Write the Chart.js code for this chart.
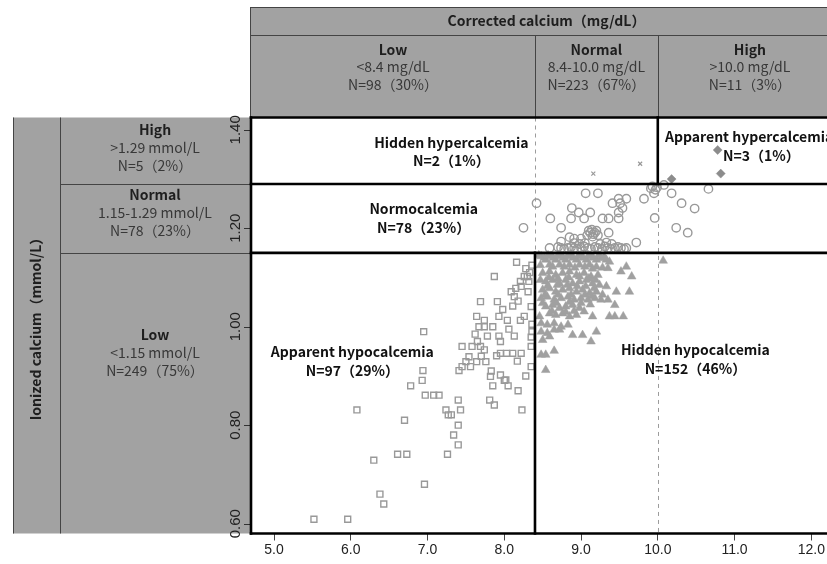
<!DOCTYPE html>
<html><head><meta charset="utf-8">
<script src="https://cdn.jsdelivr.net/npm/chart.js@4.4.1/dist/chart.umd.min.js"></script>
<style>
html,body{margin:0;padding:0;background:#fff;overflow:hidden;width:827px;height:564px}
#wrap{position:absolute;left:0;top:0;width:850px;height:564px}
</style>
</head><body><div id="wrap"><canvas id="c" width="850" height="564"></canvas></div>
<script>
// ---------- data ----------
const xTicks=[5,6,7,8,9,10,11,12];
const yTicks=[0.6,0.8,1.0,1.2,1.4];
const correctedCuts=[8.4,10.0];
const ionizedCuts=[1.15,1.29];

const ccTitle='Corrected calcium（mg/dL）';
const ccGroups=['Low','Normal','High'];
const ccRanges=['<8.4 mg/dL','8.4-10.0 mg/dL','>10.0 mg/dL'];
const ccCounts=['N=98（30%）','N=223（67%）','N=11（3%）'];

const icaTitle='Ionized calcium（mmol/L）';
const icaGroups=['High','Normal','Low'];
const icaRanges=['>1.29 mmol/L','1.15-1.29 mmol/L','<1.15 mmol/L'];
const icaCounts=['N=5（2%）','N=78（23%）','N=249（75%）'];

const zoneNames=['Hidden hypercalcemia','Apparent hypercalcemia','Normocalcemia','Apparent hypocalcemia','Hidden hypocalcemia'];
const zoneCounts=['N=2（1%）','N=3（1%）','N=78（23%）','N=97（29%）','N=152（46%）'];

const apparentHypo=[
[5.52,0.609],[5.96,0.609],[6.38,0.660],[6.43,0.640],[6.30,0.729],[6.61,0.741],[6.73,0.741],[6.96,0.680],[7.26,0.741],[6.70,0.810],
[6.08,0.831],[7.40,0.760],[7.34,0.780],[7.40,0.800],[7.24,0.831],[7.27,0.821],[7.31,0.821],[7.43,0.831],[7.40,0.851],[6.95,0.990],
[6.94,0.911],[6.93,0.891],[6.78,0.880],[6.97,0.861],[7.08,0.861],[7.15,0.861],[7.81,0.851],[7.87,0.841],[8.23,0.831],
[8.16,1.131],[7.87,1.102],[8.21,1.092],[8.26,1.102],[8.30,1.102],[8.32,1.092],[8.09,1.071],[8.15,1.078],[8.22,1.082],[8.31,1.071],
[8.13,1.061],[7.69,1.051],[7.91,1.051],[7.64,1.021],[7.74,1.013],[7.93,1.021],[8.04,1.013],[8.21,1.013],[8.26,1.021],[7.67,1.000],
[7.74,1.000],[7.85,1.000],[8.35,1.041],[7.78,0.981],[7.93,0.981],[7.95,0.970],[8.13,0.981],[8.35,0.979],[7.65,0.970],[7.45,0.960],
[7.58,0.960],[7.69,0.960],[7.74,0.953],[7.95,0.946],[8.03,0.946],[8.11,0.946],[8.22,0.946],[8.35,0.960],[7.54,0.939],[7.50,0.929],
[7.64,0.929],[7.76,0.929],[7.45,0.919],[7.56,0.919],[7.41,0.911],[8.35,0.919],[7.82,0.899],[7.95,0.902],[8.02,0.892],[7.85,0.880],
[8.05,0.880],[8.18,0.870],
[8.11,1.042],[8.18,1.052],[8.28,1.118],[8.33,1.110],[8.36,1.005],[8.36,0.990],[7.90,0.941],[8.17,0.930],[8.00,0.891],[7.83,0.910],
[7.62,0.985],[7.70,0.940],[8.28,0.900],[8.06,0.995],[7.98,1.035],[8.36,1.125]
];

const hiddenHypo=[
[8.48,1.143],[8.54,1.136],[8.61,1.143],[8.67,1.136],[8.74,1.143],[8.80,1.136],[8.87,1.143],[8.94,1.136],[9.00,1.143],[9.07,1.136],
[9.13,1.143],[9.20,1.136],[9.26,1.139],[9.33,1.136],[9.37,1.132],[8.59,1.126],[8.72,1.126],[8.85,1.126],[8.98,1.126],[9.11,1.126],
[9.20,1.122],[9.35,1.119],[9.59,1.122],[9.52,1.112],[9.66,1.102],
[8.50,1.109],[8.59,1.112],[8.67,1.105],[8.76,1.109],[8.85,1.112],[8.94,1.105],[9.04,1.109],[9.13,1.102],[9.22,1.105],[8.54,1.092],
[8.63,1.095],[8.72,1.088],[8.80,1.095],[8.89,1.088],[8.98,1.092],[9.07,1.095],[9.15,1.088],[9.24,1.085],[9.33,1.082],[8.50,1.075],
[8.59,1.078],[8.67,1.071],[8.76,1.075],[8.85,1.078],[8.94,1.071],[9.02,1.075],[9.11,1.068],[9.20,1.071],[9.28,1.065],[9.46,1.071],
[9.63,1.071],[8.48,1.058],[8.56,1.061],[8.65,1.055],[8.74,1.058],[8.83,1.061],[8.91,1.055],[9.00,1.058],[9.09,1.055],[9.18,1.058],
[9.26,1.055],[9.35,1.055],[9.44,1.044],
[8.54,1.041],[8.63,1.044],[8.72,1.038],[8.80,1.041],[8.89,1.044],[8.98,1.038],[9.04,1.031],[8.59,1.027],[8.67,1.024],[8.76,1.027],
[8.85,1.021],[8.94,1.024],[9.15,1.021],[9.37,1.021],[9.44,1.021],[9.55,1.021],[8.46,1.021],
[8.48,1.007],[8.56,1.004],[8.65,1.007],[8.74,1.000],[8.83,1.004],[8.89,0.983],[9.02,0.983],[9.20,0.990],[9.13,0.970],[8.48,0.990],
[8.56,0.987],[8.65,0.994],[8.50,0.973],[8.59,0.980],[8.72,0.994],
[8.48,0.943],[8.54,0.943],[8.65,0.951],[8.54,0.912],
[10.07,1.134],
[8.45,1.145],[8.52,1.140],[8.57,1.145],[8.64,1.140],[8.70,1.145],[8.77,1.140],[8.83,1.145],[8.90,1.140],[8.97,1.145],[9.03,1.140],
[9.10,1.145],[9.16,1.140],[9.23,1.145],[9.30,1.142],[8.47,1.125],[8.63,1.122],[8.78,1.122],[8.92,1.120],[9.05,1.122],[9.15,1.118],
[9.28,1.120],[8.47,1.095],[8.58,1.100],[8.70,1.098],[8.84,1.100],[8.98,1.102],[9.10,1.098],[9.19,1.095],[8.56,1.082],[8.69,1.085],
[8.82,1.085],[8.95,1.082],[9.06,1.082],[9.17,1.078],[8.53,1.065],[8.70,1.065],[8.87,1.065],[9.05,1.065],[9.14,1.062],[8.50,1.048],
[8.68,1.048],[8.85,1.050],[9.00,1.048],[9.12,1.045],[8.62,1.032],[8.80,1.030],[8.91,1.032]
];

const normocalcemia=[
[8.42,1.251],[8.25,1.201],[8.60,1.220],[8.74,1.201],[8.88,1.241],[8.97,1.232],[8.87,1.220],[9.06,1.271],[9.22,1.271],[9.12,1.232],
[9.04,1.220],[9.28,1.220],[9.36,1.220],[9.41,1.251],[9.49,1.260],[9.59,1.260],[9.51,1.251],[9.54,1.241],[9.49,1.232],[9.49,1.220],
[9.36,1.191],[9.82,1.260],[9.91,1.281],[9.96,1.221],[9.72,1.171],[9.33,1.171],[9.00,1.179],[8.91,1.179],[8.85,1.182],[8.74,1.173],
[9.12,1.191],[9.18,1.191],[9.15,1.183],[8.59,1.160],[9.97,1.278],
[8.74,1.160],[8.83,1.160],[8.91,1.160],[9.00,1.160],[9.09,1.160],[9.22,1.160],[9.35,1.160],[9.44,1.160],[9.52,1.160],[9.59,1.160],
[10.08,1.288],[10.18,1.271],[10.31,1.251],[10.48,1.240],[10.66,1.280],[10.24,1.201],[10.39,1.191],[9.95,1.271],
[8.78,1.158],[8.87,1.162],[8.95,1.158],[9.04,1.163],[9.13,1.158],[9.18,1.162],[9.27,1.158],[9.31,1.163],[9.39,1.158],[9.48,1.162],
[9.56,1.158],[8.70,1.162],[9.10,1.195],[9.14,1.197],[9.16,1.188],[9.20,1.195],[9.08,1.186],[9.22,1.186],[8.98,1.168],[9.05,1.170],
[9.25,1.168],[9.40,1.168],[8.91,1.170],[9.99,1.283],[9.93,1.285]
];

const hiddenHyper=[[9.16,1.311],[9.77,1.331]];
const apparentHyper=[[10.78,1.359],[10.82,1.311],[10.18,1.300]];

// ---------- drawing ----------
const GRAY='#a2a2a2';
const LINE='#444';
const JP='"Noto Sans CJK JP", "Noto Sans", sans-serif';
const toXY=a=>a.map(p=>({x:p[0],y:p[1]}));

function hline(ctx,x0,x1,y){ctx.beginPath();ctx.moveTo(x0,y);ctx.lineTo(x1,y);ctx.stroke();}
function vline(ctx,x,y0,y1){ctx.beginPath();ctx.moveTo(x,y0);ctx.lineTo(x,y1);ctx.stroke();}

const deco={
  id:'deco',
  beforeDraw(chart){
    const ctx=chart.ctx, xs=chart.scales.x, ys=chart.scales.y, a=chart.chartArea, W=chart.width;
    ctx.save();
    ctx.fillStyle='#fff'; ctx.fillRect(0,0,W,chart.height);
    // ---- top header ----
    const hx0=250, hy0=7;
    ctx.fillStyle=GRAY; ctx.fillRect(hx0,hy0,W-hx0,a.top-hy0);
    ctx.strokeStyle=LINE; ctx.lineWidth=1;
    hline(ctx,hx0,W,hy0+0.5);
    vline(ctx,hx0+0.5,hy0,a.top);
    hline(ctx,hx0,W,35.5);
    const cx=[a.left, xs.getPixelForValue(correctedCuts[0]), xs.getPixelForValue(correctedCuts[1]), a.right];
    vline(ctx,Math.round(cx[1])+0.5,35,a.top);
    vline(ctx,Math.round(cx[2])+0.5,35,a.top);
    ctx.textAlign='center'; ctx.textBaseline='middle';
    ctx.fillStyle='#1e1e1e'; ctx.font='bold 14px '+JP;
    ctx.fillText(ccTitle,(a.left+a.right)/2,21);
    for(let i=0;i<3;i++){
      const m=(cx[i]+cx[i+1])/2;
      ctx.fillStyle='#1e1e1e'; ctx.font='bold 14px '+JP;
      ctx.fillText(ccGroups[i],m,49.5);
      ctx.fillStyle='#383838'; ctx.font='14px '+JP;
      ctx.fillText(ccRanges[i],m,67);
      ctx.fillText(ccCounts[i],m,84.5);
    }
    // ---- left header ----
    const lx0=13, lbot=a.bottom;
    ctx.fillStyle=GRAY; ctx.fillRect(lx0,a.top,a.left-lx0,lbot-a.top);
    ctx.strokeStyle=LINE; ctx.lineWidth=1;
    vline(ctx,lx0+0.5,a.top,lbot);
    vline(ctx,60.5,a.top,lbot);
    const r1=Math.round(ys.getPixelForValue(ionizedCuts[1]))+0.5;
    const r2=Math.round(ys.getPixelForValue(ionizedCuts[0]))+0.5;
    hline(ctx,60,a.left,r1);
    hline(ctx,60,a.left,r2);
    const rowY=[130,195,335];
    for(let i=0;i<3;i++){
      ctx.fillStyle='#1e1e1e'; ctx.font='bold 14px '+JP;
      ctx.fillText(icaGroups[i],155,rowY[i]);
      ctx.fillStyle='#383838'; ctx.font='14px '+JP;
      ctx.fillText(icaRanges[i],155,rowY[i]+17.8);
      ctx.fillText(icaCounts[i],155,rowY[i]+35.5);
    }
    ctx.save();
    ctx.translate(36,(a.top+lbot)/2);
    ctx.rotate(-Math.PI/2);
    ctx.fillStyle='#1e1e1e'; ctx.font='bold 14px '+JP;
    ctx.fillText(icaTitle,0,0);
    ctx.restore();
    // ---- y ticks ----
    ctx.strokeStyle='#333'; ctx.lineWidth=1;
    ctx.fillStyle='#222'; ctx.font='15px "Liberation Sans", Arial, sans-serif';
    yTicks.forEach(v=>{
      const py=ys.getPixelForValue(v);
      hline(ctx,244,a.left,Math.round(py)+0.5);
      ctx.save(); ctx.translate(236,py); ctx.rotate(-Math.PI/2);
      ctx.fillText(v.toFixed(2),0,0); ctx.restore();
    });
    // ---- dashed reference lines ----
    ctx.strokeStyle='#9c9c9c'; ctx.lineWidth=1; ctx.setLineDash([4,4]);
    vline(ctx,Math.round(cx[1])+0.5,a.top,ys.getPixelForValue(ionizedCuts[0]));
    vline(ctx,Math.round(cx[2])+0.5,ys.getPixelForValue(ionizedCuts[1]),a.bottom);
    ctx.setLineDash([]);
    ctx.restore();
  },
  afterDatasetsDraw(chart){
    const ctx=chart.ctx, xs=chart.scales.x, ys=chart.scales.y, a=chart.chartArea, W=chart.width;
    ctx.save();
    ctx.strokeStyle='#000'; ctx.lineWidth=2.6; ctx.lineCap='square';
    const x84=xs.getPixelForValue(correctedCuts[0]), x10=xs.getPixelForValue(correctedCuts[1]);
    const y129=ys.getPixelForValue(ionizedCuts[1]), y115=ys.getPixelForValue(ionizedCuts[0]);
    hline(ctx,a.left,W,a.top);
    hline(ctx,a.left,W,a.bottom);
    vline(ctx,a.left,a.top,a.bottom);
    hline(ctx,a.left,W,y129);
    hline(ctx,a.left,W,y115);
    vline(ctx,x10,a.top,y129);
    vline(ctx,x84,y115,a.bottom);
    // zone labels
    const anchors=[[7.31,7.31,1.3746],[11.19,11.35,1.386],[6.95,6.95,1.2391],[6.02,6.02,0.9493],[10.49,10.49,0.9528]];
    ctx.textAlign='center'; ctx.textBaseline='middle';
    ctx.fillStyle='#111'; ctx.font='bold 14px '+JP;
    anchors.forEach((an,i)=>{
      const py=ys.getPixelForValue(an[2]);
      ctx.fillText(zoneNames[i],xs.getPixelForValue(an[0]),py);
      ctx.fillText(zoneCounts[i],xs.getPixelForValue(an[1]),py+18.5);
    });
    ctx.restore();
  }
};

new Chart(document.getElementById('c'),{
  type:'scatter',
  data:{datasets:[
    {label:'Apparent hypocalcemia',data:toXY(apparentHypo),pointStyle:'rect',pointRadius:4.2,borderColor:'#999',backgroundColor:'rgba(255,255,255,0)',borderWidth:1.4},
    {label:'Hidden hypocalcemia',data:toXY(hiddenHypo),pointStyle:'triangle',pointRadius:5,borderColor:'#a0a0a0',backgroundColor:'#a0a0a0',borderWidth:0.5},
    {label:'Normocalcemia',data:toXY(normocalcemia),pointStyle:'circle',pointRadius:4.2,borderColor:'#999',backgroundColor:'rgba(255,255,255,0)',borderWidth:1.4},
    {label:'Hidden hypercalcemia',data:toXY(hiddenHyper),pointStyle:'crossRot',pointRadius:2.8,borderColor:'#999',borderWidth:1.2},
    {label:'Apparent hypercalcemia',data:toXY(apparentHyper),pointStyle:'rectRot',pointRadius:4.5,borderColor:'#8c8c8c',backgroundColor:'#8c8c8c',borderWidth:0.5}
  ]},
  options:{
    responsive:false, animation:false, devicePixelRatio:1,
    layout:{padding:{top:117.5,left:0,right:8,bottom:0}},
    plugins:{legend:{display:false},tooltip:{enabled:false}},
    events:[],
    scales:{
      x:{type:'linear',min:4.7,max:12.4,
        afterBuildTicks:s=>{s.ticks=xTicks.map(v=>({value:v}));},
        afterFit:s=>{s.height=30.5;},
        ticks:{callback:v=>Number(v).toFixed(1),color:'#222',font:{size:14,family:'"Liberation Sans", Arial, sans-serif'},padding:1,maxRotation:0,autoSkip:false},
        grid:{drawOnChartArea:false,tickLength:7,color:'#444',lineWidth:1},
        border:{display:false}
      },
      y:{type:'linear',min:0.58,max:1.425,
        afterFit:s=>{s.width=251;},
        ticks:{display:false},
        grid:{display:false},
        border:{display:false}
      }
    }
  },
  plugins:[deco]
});
</script>
</body></html>
